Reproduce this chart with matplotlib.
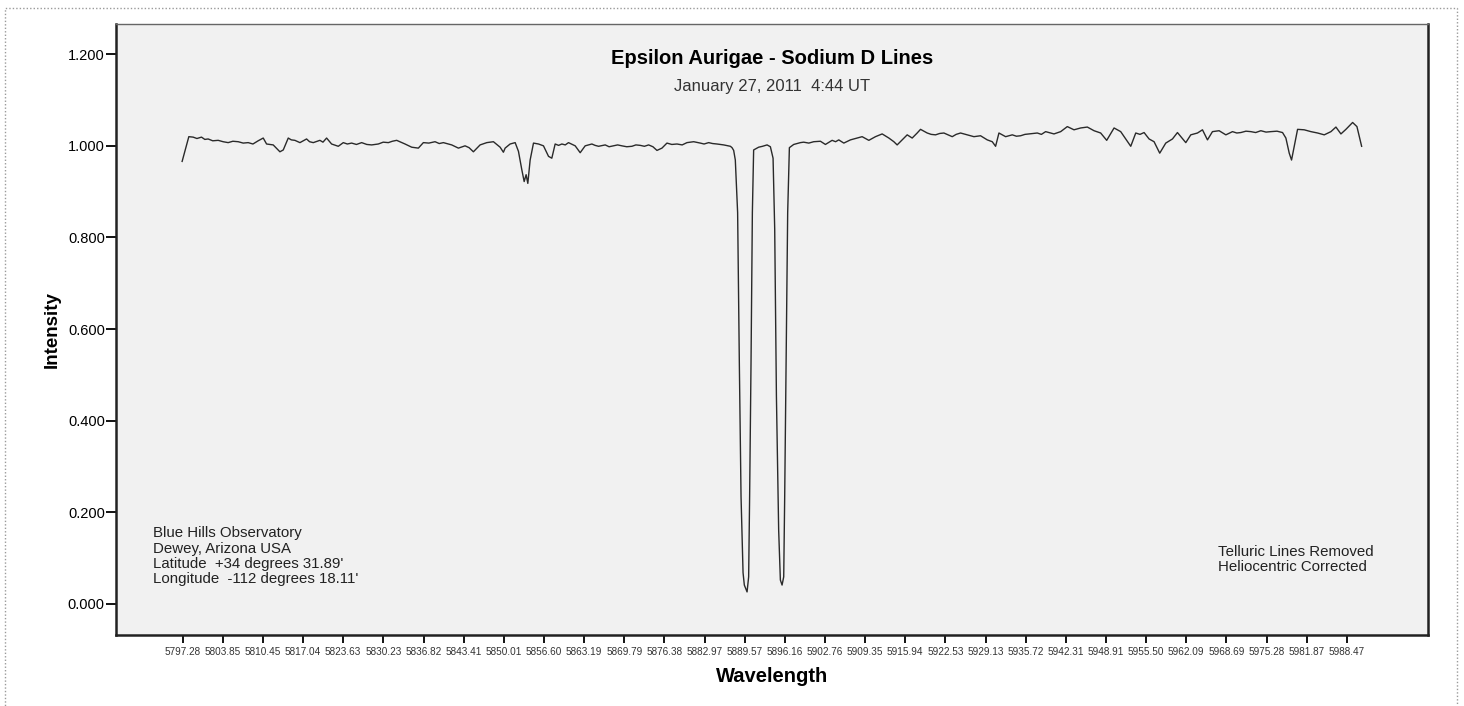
import matplotlib
matplotlib.use("Agg")
import matplotlib.pyplot as plt
from matplotlib.patches import Rectangle

plt.rcParams['font.family'] = ['Liberation Sans', 'DejaVu Sans']

# spectrum, continuum normalised
wavelength = [
    5797.17, 5798.27, 5798.98, 5799.60, 5800.35, 5800.90, 5801.44, 5802.20, 5803.09, 5803.90,
    5804.73, 5805.50, 5806.38, 5807.20, 5808.02, 5808.80, 5809.66, 5810.49, 5811.04, 5812.13,
    5813.23, 5813.78, 5814.60, 5815.10, 5815.69, 5816.52, 5817.61, 5818.10, 5818.71, 5819.80,
    5820.30, 5820.90, 5821.72, 5822.82, 5823.64, 5824.30, 5825.01, 5825.80, 5826.66, 5827.50,
    5828.30, 5829.39, 5830.20, 5831.04, 5831.70, 5832.41, 5833.78, 5834.88, 5835.97, 5836.79,
    5837.70, 5838.71, 5839.40, 5840.08, 5841.45, 5842.55, 5843.64, 5844.30, 5845.01, 5846.11,
    5847.21, 5848.30, 5849.40, 5849.94,
    5850.22, 5851.04, 5851.87, 5852.41, 5852.96, 5853.35, 5853.67, 5853.95, 5854.33, 5854.88,
    5855.70, 5856.52, 5857.35, 5857.89, 5858.44, 5859.00, 5859.54, 5860.10, 5860.63, 5861.73,
    5862.55, 5863.37, 5864.47, 5865.00, 5865.57, 5866.66, 5867.30, 5868.03, 5868.70, 5869.40,
    5870.20, 5871.05, 5871.70, 5872.42, 5873.10, 5873.79, 5874.50, 5875.16, 5875.98, 5876.80,
    5877.60, 5878.45, 5879.30, 5880.09, 5881.19, 5882.28, 5882.90, 5883.65, 5884.30, 5885.02,
    5886.12, 5887.22, 5887.49, 5887.76, 5888.03, 5888.41, 5888.69, 5888.97, 5889.30, 5889.51,
    5889.96, 5890.22, 5890.38, 5890.61, 5890.83, 5891.04, 5891.86, 5892.50, 5893.25, 5893.79,
    5894.23, 5894.50, 5894.78, 5895.15, 5895.43, 5895.71, 5895.98, 5896.14, 5896.37, 5896.63,
    5896.91, 5897.62, 5898.20, 5898.72, 5899.26, 5900.10, 5900.91, 5902.01, 5902.83,
    5903.93, 5904.50, 5905.02, 5905.85, 5906.94, 5908.04, 5908.86, 5909.96, 5911.05, 5912.15,
    5913.25, 5914.07, 5914.61, 5915.44, 5916.26, 5917.08, 5917.90, 5918.45, 5919.55, 5920.20,
    5920.92, 5921.60, 5922.29, 5923.66, 5924.30, 5925.03, 5926.11, 5927.22, 5928.31, 5929.41,
    5930.23, 5930.78, 5931.33, 5932.43, 5933.52, 5934.20, 5934.89, 5935.60, 5936.26, 5937.63,
    5938.30, 5939.00, 5940.37, 5941.47, 5942.56, 5943.66, 5944.75, 5945.85, 5946.95,
    5948.04, 5949.03, 5950.24, 5951.33, 5952.15, 5952.98, 5953.80, 5954.50, 5955.17, 5955.99,
    5956.81, 5957.74, 5958.73, 5959.83, 5960.65, 5962.02, 5962.84, 5963.94, 5964.76, 5965.58,
    5966.40, 5967.49, 5968.60, 5969.69, 5970.40, 5971.06, 5971.90, 5972.71, 5973.50, 5974.35,
    5975.20, 5976.00, 5977.00, 5977.91, 5978.46, 5979.01, 5979.39, 5979.83, 5980.38, 5981.47,
    5982.57, 5983.67, 5984.76, 5985.86, 5986.68, 5987.50, 5988.32, 5989.42, 5990.13, 5990.90,
]
intensity = [
    0.966, 1.020, 1.019, 1.016, 1.019, 1.014, 1.015, 1.011, 1.012, 1.009,
    1.007, 1.010, 1.009, 1.006, 1.007, 1.004, 1.011, 1.017, 1.004, 1.002,
    0.987, 0.991, 1.017, 1.013, 1.012, 1.007, 1.015, 1.009, 1.007, 1.012,
    1.008, 1.017, 1.004, 0.999, 1.007, 1.004, 1.006, 1.003, 1.007, 1.003,
    1.002, 1.004, 1.008, 1.007, 1.010, 1.012, 1.004, 0.997, 0.995, 1.007,
    1.006, 1.009, 1.005, 1.007, 1.002, 0.995, 1.000, 0.996, 0.987, 1.002,
    1.007, 1.009, 0.997, 0.986,
    0.995, 1.004, 1.007, 0.988, 0.948, 0.922, 0.937, 0.918, 0.969, 1.006,
    1.004, 1.000, 0.977, 0.973, 1.004, 1.001, 1.004, 1.002, 1.007, 1.000,
    0.985, 1.000, 1.004, 1.001, 0.999, 1.002, 0.998, 1.000, 1.002, 1.000,
    0.998, 0.999, 1.002, 1.001, 0.999, 1.002, 0.998, 0.990, 0.995, 1.006,
    1.003, 1.004, 1.002, 1.007, 1.009, 1.006, 1.004, 1.007, 1.005, 1.004,
    1.002, 0.999, 0.996, 0.990, 0.969, 0.854, 0.526, 0.234, 0.068, 0.041,
    0.026, 0.059, 0.234, 0.526, 0.854, 0.991, 0.997, 0.999, 1.002, 0.998,
    0.973, 0.818, 0.454, 0.161, 0.052, 0.041, 0.059, 0.234, 0.526, 0.854,
    0.996, 1.003, 1.005, 1.007, 1.008, 1.006, 1.009, 1.010, 1.003,
    1.012, 1.009, 1.013, 1.006, 1.013, 1.017, 1.020, 1.012, 1.020, 1.026,
    1.017, 1.009, 1.002, 1.013, 1.024, 1.017, 1.028, 1.036, 1.028, 1.025,
    1.024, 1.027, 1.028, 1.020, 1.025, 1.028, 1.024, 1.020, 1.022, 1.013,
    1.009, 0.999, 1.028, 1.020, 1.024, 1.021, 1.022, 1.025, 1.026, 1.028,
    1.025, 1.031, 1.026, 1.031, 1.042, 1.035, 1.039, 1.041, 1.033,
    1.028, 1.012, 1.039, 1.031, 1.015, 0.999, 1.028, 1.025, 1.029, 1.015,
    1.009, 0.984, 1.006, 1.015, 1.029, 1.007, 1.024, 1.028, 1.035, 1.013,
    1.031, 1.033, 1.024, 1.031, 1.028, 1.029, 1.032, 1.031, 1.029, 1.033,
    1.030, 1.031, 1.032, 1.029, 1.017, 0.984, 0.969, 0.999, 1.036, 1.035,
    1.031, 1.028, 1.024, 1.031, 1.041, 1.026, 1.036, 1.051, 1.042, 0.999,
]

# category-style tick positions along the wavelength axis
tick_wavelengths = [
    5797.28, 5803.85, 5810.45, 5817.04, 5823.63, 5830.23, 5836.82, 5843.41, 5850.01, 5856.60,
    5863.19, 5869.79, 5876.38, 5882.97, 5889.57, 5896.16, 5902.76, 5909.35, 5915.94, 5922.53,
    5929.13, 5935.72, 5942.31, 5948.91, 5955.50, 5962.09, 5968.69, 5975.28, 5981.87, 5988.47,
]
y_ticks = [0.0, 0.2, 0.4, 0.6, 0.8, 1.0, 1.2]

title = "Epsilon Aurigae - Sodium D Lines"
subtitle = "January 27, 2011  4:44 UT"
site_note = ("Blue Hills Observatory\nDewey, Arizona USA\n"
             "Latitude  +34 degrees 31.89'\nLongitude  -112 degrees 18.11'")
proc_note = "Telluric Lines Removed\nHeliocentric Corrected"

fig = plt.figure(figsize=(14.64, 7.06), dpi=100)
ax = fig.add_axes([0.0792, 0.1006, 0.8962, 0.8654])
ax.set_facecolor('#f1f1f1')

ax.plot(wavelength, intensity, color='#2a2a2a', lw=1.0)

ax.set_xlim(5786.3, 6001.8)
ax.set_ylim(-0.068, 1.266)

ax.set_xticks(tick_wavelengths)
ax.set_xticklabels(["%.2f" % t for t in tick_wavelengths], fontsize=7.2, color='#333333')
ax.set_yticks(y_ticks)
ax.set_yticklabels(["%.3f" % t for t in y_ticks], fontsize=10.5)
ax.tick_params(axis='x', length=6, width=1.3, pad=2.5)
ax.tick_params(axis='y', length=7, width=1.3, pad=1)

for side in ['left', 'bottom', 'right']:
    ax.spines[side].set_linewidth(1.8)
    ax.spines[side].set_color('#222222')
ax.spines['top'].set_linewidth(1.0)
ax.spines['top'].set_color('#666666')

ax.set_xlabel("Wavelength", fontsize=14.5, fontweight='bold', labelpad=7)
ax.set_ylabel("Intensity", fontsize=13.5, fontweight='bold', labelpad=5)

ax.text(0.5, 0.944, title, transform=ax.transAxes, ha='center', va='center',
        fontsize=14.5, fontweight='bold')
ax.text(0.5, 0.897, subtitle, transform=ax.transAxes, ha='center', va='center',
        fontsize=12, color='#333333')
ax.text(0.0282, 0.178, site_note, transform=ax.transAxes, ha='left', va='top',
        fontsize=10.8, linespacing=1.12, color='#222222')
ax.text(0.840, 0.147, proc_note, transform=ax.transAxes, ha='left', va='top',
        fontsize=10.8, linespacing=1.12, color='#222222')

# dotted frame round the whole chart
fig.add_artist(Rectangle((5 / 1464, -0.05), 1452 / 1464, 0.05 + 1 - 8 / 706,
                         transform=fig.transFigure, fill=False, ls=(0, (1, 1.5)),
                         lw=1.0, edgecolor='#9a9a9a'))

fig.savefig("out.png", dpi=100)
